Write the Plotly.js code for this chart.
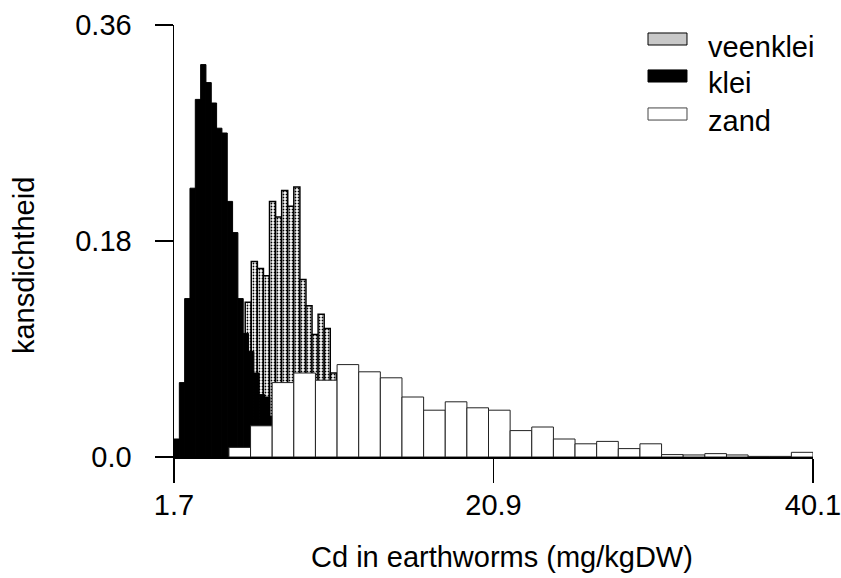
<!DOCTYPE html>
<html>
<head>
<meta charset="utf-8">
<script src="https://cdn.plot.ly/plotly-3.0.1.min.js"></script>
<style>html,body{margin:0;padding:0;background:#fff;}#chart{width:841px;height:578px;}</style>
</head>
<body>
<div id="chart"></div>
<script>
// ---- data ----
// bin left edges and densities for each soil type
const seriesNames = ["veenklei", "klei", "zand"];

const kleiBinWidth = 0.32;
const kleiEdges = [1.70, 2.02, 2.34, 2.66, 2.98, 3.30, 3.62, 3.94, 4.26, 4.58,
                   4.90, 5.22, 5.54, 5.86, 6.18, 6.50, 6.82, 7.14, 7.46];
const kleiValues = [0.015, 0.062, 0.132, 0.224, 0.298, 0.327, 0.312, 0.295, 0.274, 0.270,
                    0.213, 0.187, 0.132, 0.103, 0.088, 0.070, 0.052, 0.050, 0.034];

const veenBinWidth = 0.365;
const veenEdges = [5.980, 6.345, 6.710, 7.075, 7.440, 7.805, 8.170, 8.535, 8.900, 9.265,
                   9.630, 9.995, 10.360, 10.725, 11.090];
const veenValues = [0.129, 0.163, 0.157, 0.151, 0.213, 0.200, 0.222, 0.209, 0.225, 0.148,
                    0.126, 0.102, 0.119, 0.107, 0.070];

const zandBinWidth = 1.3;
const zandEdges = [5.0, 6.3, 7.6, 8.9, 10.2, 11.5, 12.8, 14.1, 15.4, 16.7, 18.0, 19.3, 20.6,
                   21.9, 23.2, 24.5, 25.8, 27.1, 28.4, 29.7, 31.0, 32.3, 33.6, 34.9, 36.2, 37.5, 38.8];
const zandValues = [0.008, 0.026, 0.062, 0.070, 0.064, 0.077, 0.071, 0.066, 0.050, 0.039,
                    0.046, 0.041, 0.039, 0.022, 0.025, 0.015, 0.011, 0.013, 0.007, 0.011,
                    0.002, 0.0017, 0.0028, 0.0017, 0.0005, 0.0005, 0.0039];

const xTickVals = [1.7, 20.9, 40.1];
const xTickText = ["1.7", "20.9", "40.1"];
const yTickVals = [0, 0.18, 0.36];
const yTickText = ["0.0", "0.18", "0.36"];

const xTitle = "Cd in earthworms (mg/kgDW)";
const yTitle = "kansdichtheid";

// ---- styling ----
const FONT = '"Liberation Sans", Arial, Helvetica, sans-serif';
const FS = 29;

const veenMarker = {
  color: '#ffffff',
  pattern: {shape: '.', fgcolor: '#000000', bgcolor: '#ffffff', size: 3, solidity: 0.28, fillmode: 'replace'},
  line: {color: '#000000', width: 1.5}
};
const kleiMarker = {color: '#000000', line: {color: '#000000', width: 1}};
const zandMarker = {color: '#ffffff', line: {color: '#222222', width: 1}};

const traces = [
  {type: 'bar', name: seriesNames[0], x: veenEdges, y: veenValues, width: veenBinWidth, offset: 0,
   marker: veenMarker, showlegend: false, hoverinfo: 'x+y'},
  {type: 'bar', name: seriesNames[1], x: kleiEdges, y: kleiValues, width: kleiBinWidth, offset: 0,
   marker: kleiMarker, showlegend: false, hoverinfo: 'x+y'},
  {type: 'bar', name: seriesNames[2], x: zandEdges, y: zandValues, width: zandBinWidth, offset: 0,
   marker: zandMarker, showlegend: false, hoverinfo: 'x+y'}
];

// legend drawn as swatches + text (paper coords)
const legendRows = [
  {y0: 0.9537, y1: 0.9815, ty: 0.949, fill: 'pattern'},
  {y0: 0.868, y1: 0.896, ty: 0.866, fill: '#000000'},
  {y0: 0.780, y1: 0.808, ty: 0.778, fill: '#ffffff'}
];
const shapes = [];
const annotations = [];
legendRows.forEach((r, i) => {
  shapes.push({type: 'rect', xref: 'paper', yref: 'paper', x0: 0.7418, x1: 0.8028, y0: r.y0, y1: r.y1,
    fillcolor: r.fill === 'pattern' ? '#c8c8c8' : r.fill,
    line: {color: i === 2 ? '#444' : '#000', width: 1}});
  annotations.push({xref: 'paper', yref: 'paper', x: 0.832, y: r.ty, xanchor: 'left', yanchor: 'middle',
    text: seriesNames[i], showarrow: false, font: {family: FONT, size: FS, color: '#000'}});
});
annotations.push({xref: 'paper', yref: 'paper', x: 0.513, y: -0.232, xanchor: 'center', yanchor: 'middle',
  text: xTitle, showarrow: false, font: {family: FONT, size: FS, color: '#000'}});
annotations.push({xref: 'paper', yref: 'paper', x: -0.2347, y: 0.442, xanchor: 'center', yanchor: 'middle',
  text: yTitle, textangle: -90, showarrow: false, font: {family: FONT, size: FS, color: '#000'}});

const layout = {
  width: 841, height: 578,
  margin: {l: 174, r: 28, t: 25, b: 121},
  paper_bgcolor: '#fff', plot_bgcolor: '#fff',
  barmode: 'overlay', bargap: 0,
  font: {family: FONT, size: FS, color: '#000'},
  xaxis: {range: [1.7, 40.1], tickvals: xTickVals, ticktext: xTickText,
          showline: true, linecolor: '#000', linewidth: 1.5,
          ticks: 'outside', ticklen: 24, tickwidth: 1.5, tickcolor: '#000',
          showgrid: false, zeroline: false, ticklabelstandoff: -2,
          ticklabeloverflow: 'allow',
          tickfont: {family: FONT, size: FS}},
  yaxis: {range: [0, 0.36], tickvals: yTickVals, ticktext: yTickText,
          showline: true, linecolor: '#000', linewidth: 1.5,
          ticks: 'outside', ticklen: 18, tickwidth: 1.5, tickcolor: '#000',
          showgrid: false, zeroline: false, ticklabelstandoff: 17,
          ticklabeloverflow: 'allow',
          tickfont: {family: FONT, size: FS}},
  shapes: shapes,
  annotations: annotations,
  showlegend: false
};

Plotly.newPlot('chart', traces, layout, {displayModeBar: false, staticPlot: true});
</script>
</body>
</html>
